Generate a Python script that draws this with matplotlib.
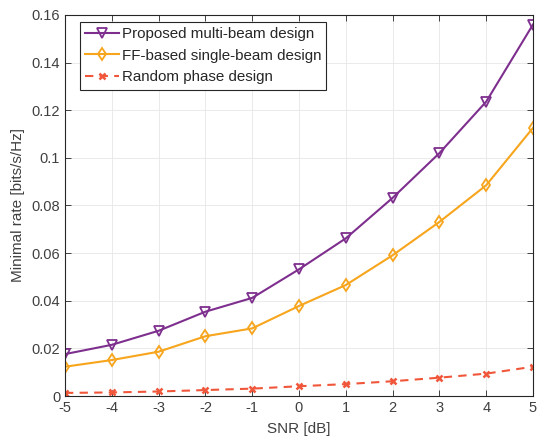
import matplotlib
matplotlib.use("Agg")
import matplotlib.pyplot as plt

plt.rcParams['font.family'] = ['Liberation Sans', 'DejaVu Sans']

snr = [-5, -4, -3, -2, -1, 0, 1, 2, 3, 4, 5]
multi_beam = [0.0176, 0.0215, 0.0274, 0.0354, 0.0412, 0.0532, 0.0662, 0.0832, 0.1020, 0.1236, 0.1560]
single_beam = [0.0123, 0.0151, 0.0186, 0.0251, 0.0284, 0.0378, 0.0466, 0.0591, 0.0731, 0.0885, 0.1126]
random_phase = [0.0013, 0.0015, 0.0019, 0.0025, 0.0031, 0.0041, 0.0050, 0.0062, 0.0077, 0.0094, 0.0123]
xticks = [-5, -4, -3, -2, -1, 0, 1, 2, 3, 4, 5]
yticks = [0, 0.02, 0.04, 0.06, 0.08, 0.1, 0.12, 0.14, 0.16]
ytick_labels = ['0', '0.02', '0.04', '0.06', '0.08', '0.1', '0.12', '0.14', '0.16']

text_col = '#404040'

fig = plt.figure(figsize=(5.38, 4.37), dpi=100)
ax = fig.add_axes([0.1208, 0.0938, 0.8699, 0.8719])

ax.plot(snr, multi_beam, color='#7E2F8E', lw=1.5, marker='v', ms=6.5,
        mfc='none', mew=1.3, label='Proposed multi-beam design')
ax.plot(snr, single_beam, color='#F7A51C', lw=1.5, marker='d', ms=6.5,
        mfc='none', mew=1.3, label='FF-based single-beam design')
ax.plot(snr, random_phase, color='#F0573A', lw=1.5, ls=(0, (4, 3)), marker='x', ms=4,
        mew=1.8, label='Random phase design')

ax.set_xlim(-5, 5)
ax.set_ylim(0, 0.16)
ax.set_xticks(xticks)
ax.set_xticklabels([str(v) for v in xticks])
ax.set_yticks(yticks)
ax.set_yticklabels(ytick_labels)
ax.tick_params(direction='in', length=4, width=0.6, colors='#262626',
               labelcolor=text_col, labelsize=10.5, top=True, right=True)
ax.grid(True, color='#e6e6e6', lw=0.6)
ax.set_axisbelow(True)
for s in ax.spines.values():
    s.set_color('#262626')
    s.set_linewidth(0.8)

ax.set_xlabel('SNR [dB]', fontsize=11, color=text_col, labelpad=5)
ax.set_ylabel('Minimal rate [bits/s/Hz]', fontsize=11, color=text_col, labelpad=5)

leg = ax.legend(loc='upper left', fontsize=10.9, fancybox=False, framealpha=1,
                edgecolor='#262626', borderpad=0.35, labelspacing=0.5,
                handlelength=2.2, handletextpad=0.2, borderaxespad=0,
                bbox_to_anchor=(0.032, 0.982))
leg.get_frame().set_linewidth(0.8)
for t in leg.get_texts():
    t.set_color('#262626')

fig.savefig('out.png', dpi=100)
